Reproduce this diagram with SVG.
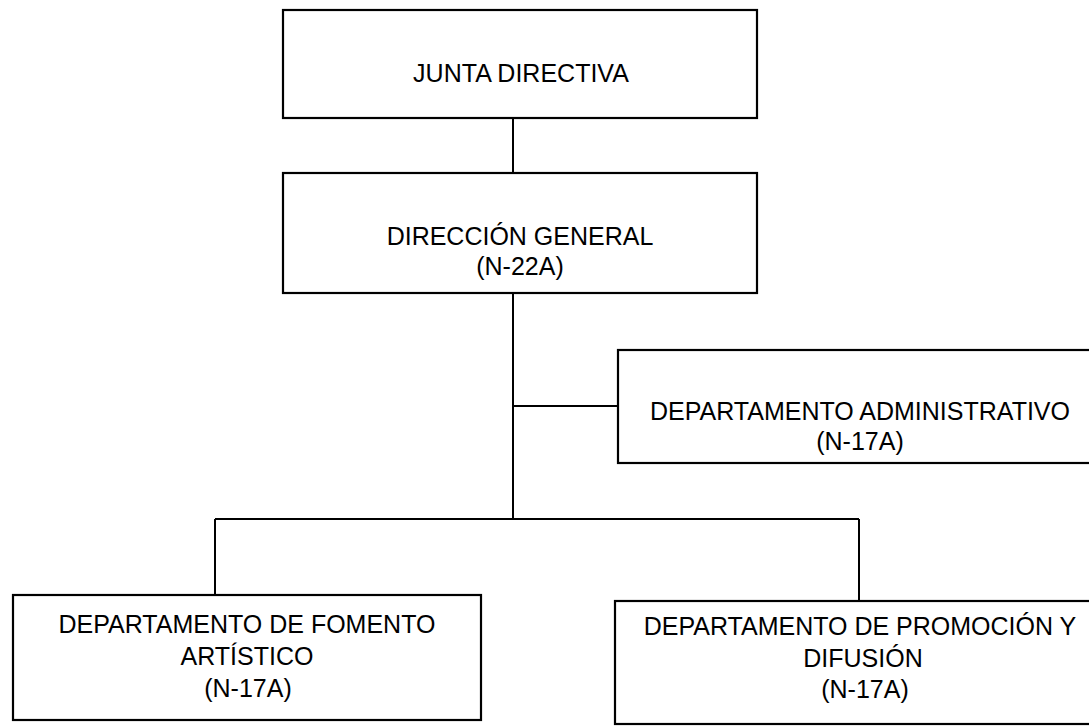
<svg xmlns="http://www.w3.org/2000/svg" width="1089" height="728" viewBox="0 0 1089 728">
<style>
.box{fill:#fff;stroke:#000;stroke-width:2.2}
.ln{fill:none;stroke:#000;stroke-width:2}
text{font-family:"Liberation Sans",Arial,sans-serif;font-size:25px;fill:#000;text-anchor:middle}
</style>
<rect width="1089" height="728" fill="#fff"/>
<g id="connectors">
<path class="ln" d="M513 118V173"/>
<path class="ln" d="M513 293V519"/>
<path class="ln" d="M513 406H618"/>
<path class="ln" d="M215 519H859"/>
<path class="ln" d="M215 519V595"/>
<path class="ln" d="M859 519V601"/>
</g>
<g id="junta">
<rect class="box" x="283" y="10" width="474" height="108"/>
<text x="521" y="82">JUNTA DIRECTIVA</text>
</g>
<g id="direccion">
<rect class="box" x="283" y="173" width="474" height="120"/>
<text x="520" y="245">DIRECCIÓN GENERAL</text>
<text x="520" y="275">(N-22A)</text>
</g>
<g id="administrativo">
<rect class="box" x="618" y="350" width="484" height="113"/>
<text x="860" y="420">DEPARTAMENTO ADMINISTRATIVO</text>
<text x="860" y="450">(N-17A)</text>
</g>
<g id="fomento">
<rect class="box" x="13" y="595" width="468" height="125"/>
<text x="247" y="633">DEPARTAMENTO DE FOMENTO</text>
<text x="247" y="665">ARTÍSTICO</text>
<text x="248" y="697">(N-17A)</text>
</g>
<g id="promocion">
<rect class="box" x="615" y="601" width="488" height="123"/>
<text x="860" y="635">DEPARTAMENTO DE PROMOCIÓN Y</text>
<text x="863" y="667">DIFUSIÓN</text>
<text x="865" y="698">(N-17A)</text>
</g>
</svg>
